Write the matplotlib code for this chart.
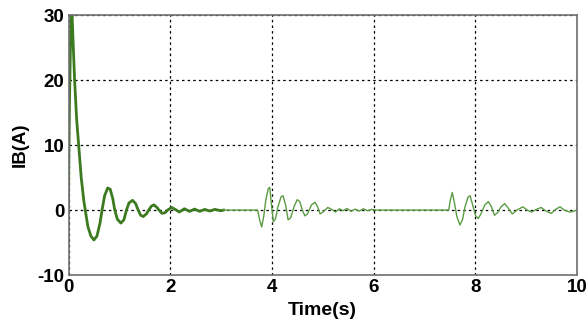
import matplotlib
matplotlib.use("Agg")
import matplotlib.pyplot as plt

# battery current IB(A) vs time
time_s = [
    0.0, 0.005, 0.02, 0.035, 0.05, 0.07, 0.09, 0.12, 0.16, 0.2, 0.25, 0.3, 0.33,
    0.38, 0.44, 0.5, 0.56, 0.62, 0.66, 0.71, 0.77, 0.82, 0.87, 0.91, 0.96, 1.03,
    1.09, 1.14, 1.19, 1.26, 1.32, 1.37, 1.42, 1.47, 1.53, 1.58, 1.63, 1.68, 1.74,
    1.78, 1.84, 1.90, 1.95, 2.03, 2.10, 2.18, 2.28, 2.38, 2.48, 2.58, 2.68, 2.78,
    2.88, 3.0, 3.05,
    3.72, 3.76, 3.80, 3.84, 3.88, 3.93, 3.96, 3.99, 4.03, 4.07, 4.12, 4.18, 4.22,
    4.27, 4.32, 4.37, 4.44, 4.50, 4.55, 4.60, 4.65, 4.70, 4.78, 4.85, 4.90, 4.95,
    5.02, 5.10, 5.18, 5.25, 5.33, 5.40, 5.48, 5.56, 5.64, 5.72, 5.80, 5.88, 5.96,
    6.05,
    7.48, 7.51, 7.55, 7.59, 7.64, 7.70, 7.75, 7.80, 7.86, 7.90, 7.95, 8.01, 8.06,
    8.12, 8.19, 8.26, 8.32, 8.38, 8.44, 8.51, 8.58, 8.65, 8.73, 8.82, 8.94, 9.02,
    9.11, 9.20, 9.30, 9.40, 9.50, 9.58, 9.67, 9.75, 9.86, 9.93, 10.0,
]
ib = [
    0, 7, 17, 24, 29, 30, 26, 20, 14, 10, 5, 1.5, 0,
    -2.5, -4, -4.6, -4, -2, 0, 2.2, 3.4, 3.2, 1.8, 0, -1.4, -2.0,
    -1.5, 0, 1.1, 1.5, 1.0, 0, -0.8, -1.0, -0.6, 0, 0.6, 0.8, 0.4,
    0, -0.5, -0.4, 0, 0.4, 0.1, -0.3, 0.2, -0.2, 0.15, -0.2, 0.1, -0.15,
    0.1, -0.1, 0,
    0, -1.5, -2.6, -1.0, 1.5, 3.3, 3.5, 1.0, -1.8, -1.4, 0.5, 2.0, 2.2,
    0.8, -1.5, -1.2, 0.6, 1.6, 1.3, 0, -0.9, -0.6, 0.8, 1.2, 0.5, -0.6,
    -0.2, 0.4, 0.1, -0.3, 0.2, -0.1, 0.25, -0.2, 0.15, -0.15, 0.2, -0.1, 0.1,
    0,
    0, 1.5, 2.7, 1.2, -1.0, -2.3, -1.5, 0.5, 2.0, 2.2, 0.8, -0.9, -1.3,
    -0.5, 0.8, 1.3, 0.5, -0.8, -0.4, 0.5, 1.0, 0.3, -0.6, 0.0, 0.5, 0.0,
    -0.3, 0.1, 0.4, -0.2, -0.5, 0.1, 0.5, 0.0, -0.3, -0.2, 0.0,
]
x_ticks = [0, 2, 4, 6, 8, 10]
y_ticks = [-10, 0, 10, 20, 30]

plt.rcParams["font.family"] = ["Liberation Sans", "DejaVu Sans"]
plt.rcParams["axes.unicode_minus"] = False

fig = plt.figure(figsize=(5.87, 3.29), dpi=100)
ax = fig.add_axes([0.1167, 0.164, 0.866, 0.79])

# startup transient is thick (ripple), the rest is a thin line
n_start = time_s.index(3.05) + 1
ax.plot(time_s[:n_start], ib[:n_start], color="#3b7a1e", lw=2.0, solid_joinstyle="round")
ax.plot([3.05] + time_s[n_start:], [0] + ib[n_start:], color="#5a9c42", lw=1.0)

ax.set_xlim(0, 10)
ax.set_ylim(-10, 30)
ax.set_xticks(x_ticks)
ax.set_yticks(y_ticks)
ax.grid(True, color="black", linestyle=(0, (2, 2.5)), linewidth=0.9)
for s in ax.spines.values():
    s.set_color("#707070")
    s.set_linewidth(1.2)
ax.tick_params(direction="in", length=0, labelsize=13.5, pad=3)
for lbl in ax.get_xticklabels() + ax.get_yticklabels():
    lbl.set_fontweight("bold")

ax.set_xlabel("Time(s)", fontsize=14, fontweight="bold", labelpad=4)
ax.set_ylabel("IB(A)", fontsize=13.5, fontweight="bold", labelpad=6)

fig.savefig("out.png", dpi=100)
